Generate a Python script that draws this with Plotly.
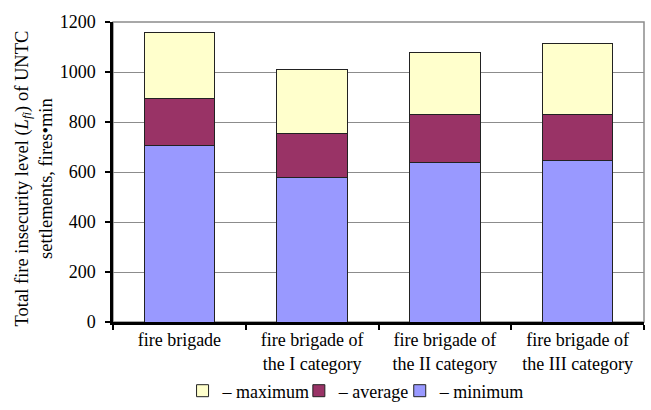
import plotly.graph_objects as go

categories = ["fire brigade", "fire brigade of<br>the I category",
              "fire brigade of<br>the II category", "fire brigade of<br>the III category"]
minimum = [705, 580, 638, 645]
average = [190, 176, 192, 187]
maximum = [265, 254, 250, 282]
y_ticks = [0, 200, 400, 600, 800, 1000, 1200]
y_title = "Total fire insecurity level (<i>L<sub>fi</sub></i>) of UNTC<br>settlements, fires•min"

font = "Liberation Serif, Times New Roman, serif"
fig = go.Figure()
series = [("– minimum", minimum, "#9999FF", "legend3"),
          ("– average", average, "#993366", "legend2"),
          ("– maximum", maximum, "#FFFFCC", "legend")]
for name, vals, col, lg in series:
    fig.add_trace(go.Bar(x=categories, y=vals, name=name, legend=lg,
                         marker=dict(color=col, line=dict(color="#222222", width=1))))

fig.add_shape(type="rect", xref="paper", yref="paper", x0=0, x1=1, y0=0, y1=1,
              line=dict(color="#8c8c8c", width=1.5), layer="below")

fig.add_annotation(text=y_title, xref="paper", yref="paper", x=-0.1497, y=0.477,
                   xanchor="center", yanchor="middle", textangle=-90, showarrow=False,
                   font=dict(size=18.5, family=font, color="black"))

leg = dict(orientation="h", y=-0.23, yanchor="middle", xanchor="left",
           font=dict(size=18), bgcolor="rgba(0,0,0,0)")

fig.update_layout(
    barmode="stack", bargap=0.47,
    width=651, height=410,
    margin=dict(l=113, r=7, t=22, b=88, autoexpand=False),
    plot_bgcolor="white", paper_bgcolor="white",
    font=dict(family=font, size=18, color="black"),
    showlegend=True,
    legend=dict(leg, x=0.131),
    legend2=dict(leg, x=0.350),
    legend3=dict(leg, x=0.540),
    xaxis=dict(showline=True, linecolor="black", linewidth=2.5, automargin=False,
               ticks="outside", tickson="boundaries", ticklen=5, tickwidth=2,
               tickcolor="black", tickfont=dict(size=18)),
    yaxis=dict(range=[0, 1200], tickvals=y_ticks, showline=True, linecolor="black",
               linewidth=2.5, ticks="outside", ticklen=5, tickwidth=1.5, tickcolor="black",
               showgrid=True, gridcolor="#8c8c8c", gridwidth=1, zeroline=False,
               tickfont=dict(size=18), automargin=False, ticklabelstandoff=6),
)
fig.write_html("out.html", config={"displayModeBar": False},
               post_script="document.body.style.margin='0';document.body.style.overflow='hidden';")
